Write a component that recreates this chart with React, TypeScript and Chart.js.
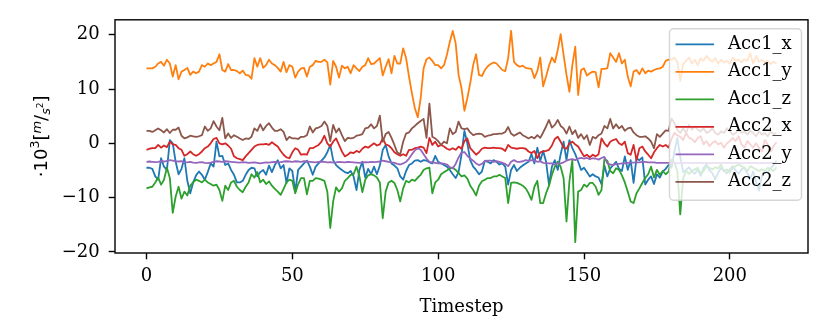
import React, { useEffect, useRef } from 'react';
import { Chart, registerables } from 'chart.js';

Chart.register(...registerables);

const seriesNames = ['Acc1_x', 'Acc1_y', 'Acc1_z', 'Acc2_x', 'Acc2_y', 'Acc2_z'];
const seriesColors = ['#1f77b4', '#ff7f0e', '#2ca02c', '#d62728', '#9467bd', '#8c564b'];
const xTicks = [0, 50, 100, 150, 200];
const yTicks = [-20, -10, 0, 10, 20];
const xLabel = 'Timestep';

const acc1X = [
  -4.5, -4.5, -4.7, -6.1, -6.7, -2.75, -4.3, -4.9, 0.6, 0.0,
  -3.4, -5.7, -4.7, -2.75, -6.9, -9.2, -7.2, -5.9, -5.2, -5.8,
  -6.7, -5.3, -3.7, -4.3, 0.3, -2.4, -2.3, -4.0, -3.7, -4.9,
  -5.8, -7.2, -7.2, -6.9, -5.8, -4.9, -4.5, -4.6, -6.1, -5.3,
  -4.9, -5.8, -4.1, -5.3, -4.0, -3.1, -4.6, -4.0, -7.3, -4.6,
  -5.1, -8.9, -4.9, -4.3, -3.7, -3.2, -4.3, -5.8, -4.3, -3.7,
  -3.2, -2.6, -1.65, -0.3, -3.1, -4.0, -4.5, -4.9, -5.3, -5.5,
  -5.1, -6.1, -8.6, -4.9, -3.4, -6.3, -4.7, -5.7, -4.3, -5.7,
  -4.1, -1.2, -0.3, -2.4, -3.7, -4.1, -4.6, -6.1, -6.7, -5.1,
  -4.0, -3.7, -3.2, -3.1, -3.4, -3.1, -3.2, -3.5, -3.7, -2.3,
  -3.4, -3.7, -4.0, -4.3, -4.9, -5.7, -6.4, -5.3, -2.1, 2.3,
  0.0, -3.1, -4.3, -4.9, -5.7, -5.2, -3.2, -3.4, -3.7, -3.1,
  -3.4, -3.9, -3.7, -4.3, -7.6, -4.9, -4.0, -5.1, -4.5, -4.1,
  -3.7, -3.4, -2.0, -3.7, -0.8, -3.2, -1.4, -3.4, -7.6, -4.3,
  -3.1, -4.9, -2.0, 0.3, -3.1, 0.6, -0.9, -2.0, -3.4, -4.9,
  -4.5, -5.3, -6.1, -5.7, -6.1, -6.3, -7.5, -4.1, -6.1, -4.6,
  -4.0, -3.4, -4.7, -5.1, -2.4, -4.9, -3.1, -7.3, -2.75, -3.1,
  -2.6, -7.6, -6.7, -6.1, -7.5, -5.7, -6.3, -5.2, -4.7, -4.0,
  -4.5, -1.5, 1.0, -2.5, -5.3, -4.9, -4.4, -5.2, -5.6, -4.8,
  -6.0, -4.5, -3.9, -5.0, -5.5, -6.6, -5.4, -4.5, -5.1, -5.5,
  -4.8, -4.2, -5.0, -5.6, -4.8, -4.5, -5.5, -6.5, -5.2, -7.2,
  -8.7, -6.0, -5.4, -5.2, -4.6, -4.0, -3.2,
];

const acc1Y = [
  13.8, 13.8, 13.8, 14.1, 14.7, 15.0, 14.3, 15.4, 14.7, 12.3,
  14.4, 11.8, 13.2, 13.5, 13.9, 12.6, 13.2, 12.9, 13.2, 14.4,
  14.1, 14.7, 14.4, 14.7, 15.0, 16.4, 13.5, 13.2, 14.6, 13.5,
  13.5, 13.3, 12.9, 13.4, 12.6, 12.5, 11.9, 15.7, 14.1, 15.7,
  13.9, 14.4, 15.4, 14.7, 14.4, 13.9, 13.2, 15.0, 13.1, 14.4,
  14.1, 12.1, 13.2, 13.8, 13.9, 12.3, 14.1, 14.4, 15.2, 15.0,
  15.0, 15.4, 14.9, 10.8, 15.2, 14.1, 12.1, 14.3, 13.8, 14.1,
  12.9, 14.4, 13.8, 13.3, 14.1, 14.4, 15.7, 14.6, 14.7, 15.2,
  15.7, 12.5, 14.1, 15.5, 12.9, 16.1, 14.7, 14.7, 17.5, 15.7,
  12.3, 9.2, 6.5, 4.8, 8.3, 13.8, 15.5, 15.8, 15.2, 14.4,
  14.4, 13.8, 14.4, 16.3, 18.7, 20.7, 18.4, 12.6, 10.2, 6.0,
  8.3, 11.1, 14.4, 16.4, 12.6, 12.4, 13.5, 14.2, 14.6, 14.9,
  14.7, 14.1, 13.5, 13.3, 15.7, 20.7, 15.0, 14.4, 14.1, 14.3,
  13.9, 13.8, 13.7, 12.0, 13.3, 15.8, 10.5, 12.3, 14.3, 15.8,
  14.9, 17.2, 20.1, 16.3, 12.6, 9.5, 14.4, 17.8, 8.9, 13.5,
  13.8, 12.5, 12.9, 13.2, 13.1, 10.3, 13.7, 13.7, 13.8, 16.6,
  15.8, 15.0, 16.6, 14.7, 15.4, 12.3, 10.5, 13.2, 13.5, 12.7,
  13.8, 12.9, 13.4, 13.2, 13.5, 13.7, 13.8, 14.1, 15.2, 15.4,
  15.4, 15.8, 15.0, 11.5, 14.6, 15.2, 15.8, 14.7, 15.4, 14.4,
  15.7, 15.2, 16.1, 15.4, 15.0, 15.7, 14.7, 15.4, 14.9, 15.2,
  14.7, 15.8, 15.2, 15.4, 14.9, 15.5, 15.2, 16.6, 14.7, 16.1,
  15.0, 15.4, 14.9, 15.2, 14.6, 15.0, 14.7,
];

const acc1Z = [
  -8.3, -8.1, -8.0, -7.2, -6.3, -7.6, -6.7, -4.5, -6.4, -12.8,
  -9.8, -8.0, -10.2, -8.9, -9.6, -7.8, -7.2, -6.7, -6.9, -7.2,
  -6.7, -7.2, -7.5, -7.8, -7.6, -8.6, -10.6, -7.8, -8.6, -7.2,
  -6.9, -8.0, -8.6, -9.0, -8.0, -7.2, -5.7, -6.3, -5.3, -7.2,
  -6.7, -7.5, -7.0, -7.8, -8.4, -8.9, -9.5, -8.4, -7.2, -6.7,
  -6.9, -9.2, -7.5, -6.4, -6.4, -9.4, -6.9, -6.9, -6.4, -6.5,
  -6.7, -6.9, -8.9, -15.6, -10.7, -8.1, -8.9, -8.3, -6.9, -6.4,
  -5.8, -5.7, -4.3, -6.1, -9.0, -6.7, -5.9, -5.7, -5.9, -6.3,
  -7.2, -13.8, -8.9, -7.2, -6.9, -7.3, -8.6, -10.7, -8.3, -6.9,
  -7.2, -6.7, -6.9, -6.3, -5.8, -4.9, -4.6, -4.5, -9.2, -7.2,
  -6.7, -5.7, -5.3, -5.0, -4.6, -4.5, -4.9, -5.5, -6.1, -5.9,
  -6.5, -7.8, -8.6, -9.6, -7.8, -7.0, -6.7, -6.4, -6.4, -6.1,
  -6.1, -5.8, -6.1, -6.4, -11.0, -7.3, -7.2, -7.3, -7.5, -7.8,
  -8.3, -9.2, -10.4, -8.0, -6.9, -11.0, -11.0, -9.2, -7.8, -5.8,
  -4.3, -3.4, -4.3, -6.4, -14.4, -7.0, -3.1, -18.2, -8.9, -8.6,
  -7.6, -8.0, -7.3, -7.3, -8.0, -9.5, -8.6, -2.9, -3.2, -5.1,
  -5.5, -4.6, -4.9, -5.9, -7.2, -8.9, -10.7, -11.0, -9.2, -8.3,
  -7.3, -6.4, -5.7, -4.3, -6.3, -4.9, -5.8, -5.1, -5.7, -5.2,
  -3.0, -3.6, -5.1, -13.1, -6.4, -5.1, -5.6, -5.1, -4.8, -4.5,
  -5.6, -5.1, -4.2, -4.5, -4.8, -4.4, -4.6, -3.9, -5.1, -4.8,
  -5.4, -4.5, -4.2, -3.9, -4.2, -4.5, -5.1, -4.2, -4.5, -4.8,
  -5.1, -4.8, -5.1, -4.5, -4.8, -5.1, -4.4,
];

const acc2X = [
  -1.2, -1.0, -0.9, -0.9, -0.3, -0.8, -0.4, -0.7, 0.3, -0.2,
  -0.3, -0.9, -1.2, -2.3, -2.0, -1.5, -2.0, -2.3, -2.0, -1.5,
  -0.9, -0.6, 0.0, 0.8, 1.0, 0.0, -0.2, 0.0, -0.4, -1.0,
  -2.4, -2.75, -2.9, -3.1, -2.4, -1.8, -1.2, -0.6, -0.3, -0.2,
  -0.2, -0.1, -0.3, 0.2, -0.2, -0.6, -1.4, -2.1, -2.6, -2.75,
  -1.65, -0.9, -1.2, -2.1, -2.0, -2.1, -0.9, -0.9, -0.6, -0.3,
  0.3, 1.4, 0.0, -0.6, 0.3, 0.9, -0.3, -1.5, -2.4, -2.1,
  -1.65, -1.8, -1.4, -1.65, -1.0, -0.6, -0.8, -0.4, 0.0, -0.4,
  -0.2, 0.9, -0.2, -0.4, -0.9, -1.65, -2.0, -2.3, -2.0, -2.3,
  -1.2, -1.2, -0.9, -0.8, -0.6, -0.8, -1.8, 1.0, -0.3, 0.3,
  -0.6, -0.3, -0.6, -1.0, -1.2, -0.9, -1.2, -0.6, -1.0, 0.4,
  0.9, -0.9, -1.5, -2.1, -1.65, -1.0, -0.8, -0.9, -0.9, -0.8,
  -0.9, -0.9, -1.0, -1.4, -0.3, -0.8, -0.9, -1.0, -0.9, -0.9,
  -1.0, -1.5, -1.8, -1.4, -2.75, -1.65, -1.5, -1.4, -1.2, -0.4,
  0.8, 1.2, 0.3, -0.8, -1.0, 0.0, 0.3, -0.2, -0.6, -1.5,
  -2.4, -2.1, -2.6, -2.1, -2.4, -2.0, 0.9, 0.0, -0.6, 0.3,
  0.6, 0.8, 0.0, -0.3, 0.3, -1.8, -2.1, -0.3, -3.1, -0.9,
  -0.6, -1.5, -2.1, -2.75, -1.65, -0.9, -0.3, -0.6, -0.3, -0.8,
  0.8, 1.9, 1.5, 1.2, 0.6, 1.9, 1.0, 0.8, 0.2, 1.0,
  1.3, -0.2, 0.4, -0.5, 0.1, 0.4, -0.2, 0.1, -0.8, 0.0,
  0.4, 1.0, 0.4, 1.3, -0.2, -0.8, 0.4, -0.2, -0.8, 0.0,
  -0.8, -1.5, 0.6, -0.2, -1.5, -0.5, 0.2,
];

const acc2Y = [
  -3.4, -3.35, -3.4, -3.45, -3.4, -3.3, -3.35, -3.25, -3.1, -3.2,
  -3.3, -3.35, -3.3, -3.45, -3.5, -3.4, -3.55, -3.6, -3.5, -3.45,
  -3.6, -3.65, -3.55, -3.4, -3.3, -3.35, -3.4, -3.3, -3.35, -3.4,
  -3.45, -3.5, -3.55, -3.45, -3.5, -3.6, -3.55, -3.5, -3.6, -3.7,
  -3.6, -3.5, -3.55, -3.45, -3.4, -3.5, -3.45, -3.35, -3.3, -3.35,
  -3.4, -3.3, -3.35, -3.4, -3.3, -3.35, -3.4, -3.45, -3.5, -3.4,
  -3.35, -3.4, -3.5, -3.45, -3.55, -3.5, -3.4, -3.45, -3.5, -3.4,
  -3.45, -3.5, -3.55, -3.6, -3.5, -3.45, -3.5, -3.4, -3.45, -3.4,
  -3.35, -3.2, -3.3, -3.4, -3.5, -3.6, -3.8, -3.9, -3.7, -3.4,
  -2.8, -2.0, -1.3, -0.9, -1.2, -2.0, -2.8, -3.4, -3.5, -3.6,
  -3.7, -3.7, -3.75, -3.9, -4.4, -4.6, -3.8, -2.6, -1.7, -1.6,
  -2.3, -2.8, -3.2, -3.7, -4.0, -3.8, -3.3, -3.2, -3.2, -3.4,
  -3.3, -3.4, -3.6, -3.8, -4.2, -3.4, -3.1, -3.4, -3.4, -3.3,
  -3.1, -3.25, -3.1, -3.15, -3.4, -3.3, -3.6, -3.65, -3.7, -3.7,
  -3.9, -3.7, -3.7, -3.5, -3.2, -3.0, -2.9, -3.1, -2.8, -2.7,
  -2.8, -2.7, -2.9, -2.75, -2.8, -3.0, -2.7, -2.5, -3.7, -3.9,
  -4.0, -3.8, -3.8, -3.7, -3.7, -3.6, -3.55, -3.55, -3.5, -3.5,
  -3.4, -3.4, -3.5, -3.5, -3.5, -3.6, -3.6, -3.6, -3.6, -3.6,
  -3.6, -3.6, -3.7, -3.6, -3.65, -3.6, -3.6, -3.65, -3.6, -3.6,
  -3.6, -3.65, -3.6, -3.7, -3.6, -3.6, -3.65, -3.6, -3.6, -3.6,
  -3.6, -3.65, -3.6, -3.6, -3.7, -3.6, -3.6, -3.65, -3.6, -3.6,
  -3.7, -3.6, -3.65, -3.6, -3.6, -3.6, -3.6,
];

const acc2Z = [
  2.3, 2.3, 2.1, 2.4, 2.75, 2.4, 2.0, 2.6, 1.9, 2.5,
  2.5, 2.9, 1.4, 0.9, 1.1, 1.4, 1.3, 1.2, 1.3, 1.5,
  3.1, 2.3, 2.75, 4.1, 3.1, 2.4, 4.7, 0.9, 1.8, 1.0,
  1.5, 1.2, 0.9, 0.6, 0.9, 0.8, 1.2, 2.75, 2.3, 3.5,
  2.4, 3.2, 3.7, 2.9, 2.3, 2.3, 2.6, 2.1, 0.6, 1.2,
  0.9, 0.9, 0.8, 1.2, 1.2, 1.5, 3.1, 2.0, 2.75, 2.9,
  3.2, 4.0, 3.2, 0.4, 3.4, 2.0, 2.75, 1.5, 0.4, 1.0,
  0.9, 1.0, 1.4, 1.5, 1.7, 2.75, 2.9, 3.5, 2.75, 3.2,
  5.1, 0.3, 1.7, 2.1, 1.0, -0.3, -1.7, -2.0, 0.3, 1.8,
  2.0, 2.75, 3.2, 3.7, 4.1, 4.5, 1.0, 7.3, 1.2, 0.9,
  0.4, -0.3, 0.3, 0.0, 2.75, 1.7, 2.1, 4.0, 2.75, 2.6,
  2.75, 2.0, 1.5, 1.7, 1.8, 1.7, 1.2, 1.4, 1.5, 1.7,
  1.7, 1.8, 1.8, 2.1, 3.0, 1.8, 1.4, 1.7, 2.0, 1.5,
  1.2, 0.9, 1.2, 0.9, 1.5, 1.0, 2.0, 3.1, 4.3, 2.9,
  3.4, 4.3, 3.2, 2.75, 1.8, 3.1, 1.7, 2.4, 1.0, 1.7,
  0.8, 1.5, -0.3, 1.2, 0.9, 1.5, 1.8, 3.2, 2.75, 4.5,
  2.75, 3.5, 2.75, 3.2, 2.3, 2.75, 2.9, 2.0, 1.5, 1.2,
  1.2, 1.3, 0.9, 0.3, -0.9, 1.7, 1.2, 1.8, 2.4, 2.3,
  4.6, 3.7, 2.5, 1.9, 2.8, 1.9, 3.4, 2.5, 3.1, 2.5,
  2.2, 2.8, 1.9, 2.2, 2.8, 1.9, 1.6, 2.2, 1.9, 2.8,
  2.2, 1.6, 1.9, 2.5, 1.9, 2.2, 1.6, 2.3, 1.9, 1.3,
  2.2, 1.6, 1.9, 1.3, 2.2, 1.7, 1.9,
];

const seriesValues = [acc1X, acc1Y, acc1Z, acc2X, acc2Y, acc2Z];
const timesteps = acc1X.map((_, i) => i);

const SERIF = '"DejaVu Serif", "Liberation Serif", serif';
const SANS = '"DejaVu Sans", sans-serif';
const LINE_W = 1.8;

const fmt = (v: number) => (v < 0 ? '\u2212' + Math.abs(v) : String(v));

const decorPlugin = {
  id: 'decor',
  afterDatasetsDraw(chart: any) {
    const { ctx, chartArea } = chart;
    const { left, right, top, bottom } = chartArea;
    ctx.save();
    // axes frame
    ctx.strokeStyle = '#000';
    ctx.lineWidth = 1.4;
    ctx.strokeRect(left, top, right - left, bottom - top);

    // x title
    ctx.fillStyle = '#000';
    ctx.font = `18px ${SERIF}`;
    ctx.textAlign = 'center';
    ctx.textBaseline = 'alphabetic';
    ctx.fillText(xLabel, (left + right) / 2, 312);

    // y title (rotated, mathtext-like)
    const cy = (top + bottom) / 2;
    ctx.translate(47, cy);
    ctx.rotate(-Math.PI / 2);
    const pieces = [
      { t: '\u00b710', f: `18px ${SANS}`, dy: 0 },
      { t: '3', f: `12.6px ${SANS}`, dy: -8 },
      { t: '[', f: `18px ${SANS}`, dy: 0 },
      { t: 'm', f: `italic 13px ${SANS}`, dy: -6 },
      { t: '/', f: `18px ${SANS}`, dy: 0 },
      { t: 's', f: `italic 12.6px ${SANS}`, dy: 3 },
      { t: '2', f: `9px ${SANS}`, dy: -4 },
      { t: ']', f: `18px ${SANS}`, dy: 0 },
    ];
    ctx.textAlign = 'left';
    let total = 0;
    const widths = pieces.map((p) => {
      ctx.font = p.f;
      const w = ctx.measureText(p.t).width;
      total += w;
      return w;
    });
    let x = -total / 2;
    pieces.forEach((p, i) => {
      ctx.font = p.f;
      ctx.fillText(p.t, x, p.dy);
      x += widths[i];
    });
    ctx.restore();
  },
  afterDraw(chart: any) {
    const { ctx, chartArea } = chart;
    const bx = chartArea.right - 138.5;
    const by = chartArea.top + 9;
    const bw = 132;
    const bh = 171.5;
    ctx.save();
    ctx.beginPath();
    ctx.roundRect(bx, by, bw, bh, 4);
    ctx.fillStyle = 'rgba(255,255,255,0.8)';
    ctx.fill();
    ctx.strokeStyle = 'rgba(204,204,204,0.8)';
    ctx.lineWidth = 1.4;
    ctx.stroke();
    ctx.font = `18px ${SERIF}`;
    ctx.textAlign = 'left';
    ctx.textBaseline = 'middle';
    seriesNames.forEach((name, i) => {
      const y = by + 15.5 + i * 27.5;
      ctx.strokeStyle = seriesColors[i];
      ctx.lineWidth = LINE_W;
      ctx.beginPath();
      ctx.moveTo(bx + 6, y);
      ctx.lineTo(bx + 44.5, y);
      ctx.stroke();
      ctx.fillStyle = '#000';
      ctx.fillText(name, bx + 58.5, y);
    });
    ctx.restore();
  },
};

export default function App() {
  const ref = useRef<HTMLCanvasElement | null>(null);
  useEffect(() => {
    if (!ref.current) return;
    const chart = new Chart(ref.current, {
      type: 'line',
      data: {
        datasets: seriesNames.map((name, i) => ({
          label: name,
          data: seriesValues[i].map((v, j) => ({ x: timesteps[j], y: v })),
          borderColor: seriesColors[i],
          backgroundColor: seriesColors[i],
          borderWidth: LINE_W,
          pointRadius: 0,
          tension: 0,
          fill: false,
          borderJoinStyle: 'round',
          borderCapStyle: 'butt',
          order: seriesNames.length - i,
        })),
      },
      options: {
        responsive: false,
        animation: false,
        devicePixelRatio: 1,
        parsing: false,
        normalized: true,
        layout: { padding: { top: 19.5, right: 22, left: 0, bottom: 0 } },
        plugins: { legend: { display: false }, tooltip: { enabled: false } },
        events: [],
        scales: {
          x: {
            type: 'linear',
            min: -10.8,
            max: 226.8,
            afterBuildTicks: (s: any) => {
              s.ticks = xTicks.map((v) => ({ value: v }));
            },
            afterFit: (s: any) => {
              s.height = 79;
            },
            border: { display: false },
            grid: {
              drawOnChartArea: false,
              drawTicks: true,
              tickLength: 6.3,
              tickWidth: 1.4,
              tickColor: '#000',
              color: '#000',
            },
            ticks: {
              color: '#000',
              font: { family: SERIF, size: 18 },
              padding: 6,
              maxRotation: 0,
              autoSkip: false,
              callback: (v: any) => fmt(Number(v)),
            },
          },
          y: {
            type: 'linear',
            min: -20.2,
            max: 22.75,
            afterBuildTicks: (s: any) => {
              s.ticks = yTicks.map((v) => ({ value: v }));
            },
            afterFit: (s: any) => {
              s.width = 115;
            },
            border: { display: false },
            grid: {
              drawOnChartArea: false,
              drawTicks: true,
              tickLength: 6.3,
              tickWidth: 1.4,
              tickColor: '#000',
              color: '#000',
            },
            ticks: {
              color: '#000',
              font: { family: SERIF, size: 18 },
              padding: 9,
              autoSkip: false,
              callback: (v: any) => fmt(Number(v)),
            },
          },
        },
      },
      plugins: [decorPlugin],
    } as any);
    return () => chart.destroy();
  }, []);
  return (
    <div style={{ position: 'absolute', left: 0, top: 0, width: 830, height: 332, background: '#fff' }}>
      <canvas ref={ref} width={830} height={332} style={{ width: 830, height: 332, display: 'block' }} />
    </div>
  );
}
